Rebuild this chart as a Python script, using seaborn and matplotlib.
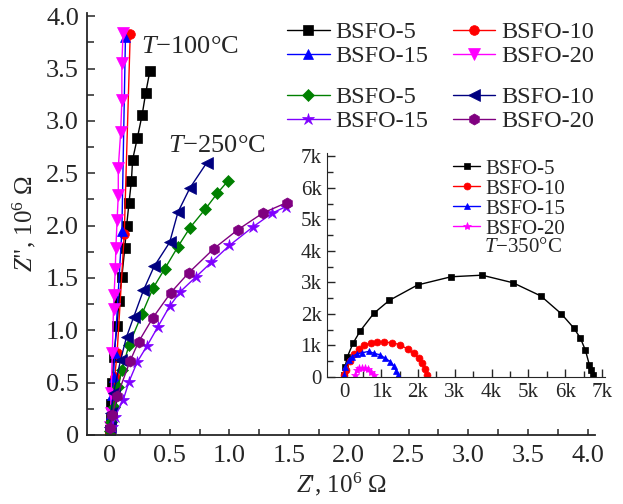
import numpy as np
import pandas as pd
import matplotlib
matplotlib.use('Agg')
import matplotlib.pyplot as plt
import seaborn as sns
from matplotlib.ticker import MultipleLocator, FuncFormatter

# main plot, units of 10^6 Ohm
b5_100_x = [0.335, 0.30, 0.27, 0.23, 0.19, 0.18, 0.16, 0.14, 0.125, 0.10, 0.075, 0.06, 0.03, 0.02, 0.01, 0.005, 0.0]
b5_100_y = [3.48, 3.27, 3.06, 2.84, 2.63, 2.43, 2.22, 2.00, 1.79, 1.51, 1.28, 1.04, 0.74, 0.50, 0.30, 0.15, 0.05]
b10_100_x = [0.17, 0.12, 0.06, 0.04, 0.03, 0.02, 0.01, 0.0]
b10_100_y = [3.83, 1.92, 0.78, 0.55, 0.38, 0.20, 0.10, 0.03]
b15_100_x = [0.13, 0.10, 0.04, 0.03, 0.02, 0.01, 0.0, 0.0]
b15_100_y = [3.80, 1.95, 0.78, 0.55, 0.38, 0.20, 0.10, 0.03]
b20_100_x = [0.11, 0.10, 0.10, 0.09, 0.07, 0.07, 0.06, 0.05, 0.045, 0.035, 0.03, 0.02, 0.01, 0.005, 0.0]
b20_100_y = [3.84, 3.55, 3.20, 2.89, 2.55, 2.29, 2.05, 1.79, 1.59, 1.34, 1.20, 0.78, 0.40, 0.21, 0.08]

b5_250_x = [0.99, 0.90, 0.80, 0.67, 0.57, 0.46, 0.36, 0.27, 0.16, 0.10, 0.07, 0.03, 0.01, 0.0]
b5_250_y = [2.43, 2.31, 2.16, 1.98, 1.80, 1.59, 1.40, 1.16, 0.86, 0.62, 0.46, 0.27, 0.12, 0.04]
b10_250_x = [0.81, 0.67, 0.57, 0.50, 0.37, 0.28, 0.20, 0.14, 0.09, 0.03, 0.01, 0.0]
b10_250_y = [2.60, 2.36, 2.13, 1.84, 1.61, 1.38, 1.13, 0.94, 0.72, 0.40, 0.21, 0.08]
b15_250_x = [1.47, 1.36, 1.20, 1.00, 0.85, 0.72, 0.59, 0.50, 0.40, 0.31, 0.23, 0.16, 0.11, 0.04, 0.02]
b15_250_y = [2.18, 2.12, 1.99, 1.81, 1.65, 1.51, 1.37, 1.23, 1.03, 0.85, 0.70, 0.51, 0.33, 0.17, 0.08]
b20_250_x = [1.48, 1.28, 1.07, 0.87, 0.66, 0.51, 0.36, 0.24, 0.17, 0.06, 0.02, 0.0]
b20_250_y = [2.22, 2.12, 1.96, 1.78, 1.55, 1.36, 1.12, 0.89, 0.71, 0.37, 0.19, 0.07]

# inset, 350 C, units of k Ohm
b5_350_x = [0, 0.02, 0.08, 0.24, 0.43, 0.80, 1.22, 1.99, 2.90, 3.74, 4.58, 5.34, 5.89, 6.23, 6.41, 6.55, 6.66, 6.71, 6.75]
b5_350_y = [0.05, 0.32, 0.64, 1.08, 1.46, 2.02, 2.43, 2.92, 3.18, 3.23, 2.99, 2.57, 2.01, 1.56, 1.24, 0.85, 0.37, 0.21, 0.05]
b10_350_x = [0, 0.05, 0.16, 0.27, 0.39, 0.54, 0.71, 0.89, 1.09, 1.29, 1.52, 1.72, 1.88, 2.02, 2.11, 2.18, 2.24]
b10_350_y = [0.05, 0.22, 0.52, 0.73, 0.88, 1.02, 1.07, 1.12, 1.10, 1.09, 1.02, 0.88, 0.75, 0.59, 0.43, 0.25, 0.06]
b15_350_x = [0, 0.03, 0.12, 0.21, 0.34, 0.48, 0.66, 0.81, 0.98, 1.11, 1.25, 1.34, 1.41, 1.47]
b15_350_y = [0.05, 0.33, 0.54, 0.65, 0.73, 0.77, 0.81, 0.75, 0.70, 0.59, 0.49, 0.35, 0.19, 0.06]
b20_350_x = [0.30, 0.33, 0.39, 0.48, 0.57, 0.64, 0.71, 0.80]
b20_350_y = [0.06, 0.22, 0.30, 0.28, 0.28, 0.24, 0.17, 0.06]

sns.set_style('ticks')
plt.rcParams['font.family'] = ['Liberation Serif', 'DejaVu Serif']
plt.rcParams['mathtext.fontset'] = 'custom'
plt.rcParams['mathtext.rm'] = 'Liberation Serif'
plt.rcParams['mathtext.it'] = 'Liberation Serif:italic'

fig = plt.figure(figsize=(6.23, 5.04), dpi=100)
ax = fig.add_axes([0.140, 0.137, 0.815, 0.837])


def line(a, x, y, c, m, lab, ms):
    sns.lineplot(x=x, y=y, ax=a, color=c, marker=m, markersize=ms, markeredgecolor=c,
                 markeredgewidth=0.5, linewidth=1, sort=False, estimator=None, label=lab)


line(ax, b5_100_x, b5_100_y, 'black', 's', 'BSFO-5', 7)
line(ax, b10_100_x, b10_100_y, 'red', 'o', 'BSFO-10', 7)
line(ax, b15_100_x, b15_100_y, 'blue', '^', 'BSFO-15', 7)
line(ax, b20_100_x, b20_100_y, 'magenta', 'v', 'BSFO-20', 8)
line(ax, b5_250_x, b5_250_y, 'green', 'D', 'BSFO-5', 6)
line(ax, b10_250_x, b10_250_y, 'navy', '<', 'BSFO-10', 8)
line(ax, b15_250_x, b15_250_y, '#7f00ff', '*', 'BSFO-15', 9)
line(ax, b20_250_x, b20_250_y, 'purple', 'h', 'BSFO-20', 8)

ax.set_xlim(-0.19, 4.06)
ax.set_ylim(0, 4.03)
ax.xaxis.set_major_locator(MultipleLocator(0.5))
ax.xaxis.set_minor_locator(MultipleLocator(0.25))
ax.yaxis.set_major_locator(MultipleLocator(0.5))
ax.yaxis.set_minor_locator(MultipleLocator(0.25))
fmt = FuncFormatter(lambda v, p: '0' if abs(v) < 1e-9 else f'{v:.1f}')
ax.xaxis.set_major_formatter(fmt)
ax.yaxis.set_major_formatter(fmt)
ax.tick_params(which='both', direction='in', labelsize=19, width=1.1)
ax.tick_params(axis='y', which='major', length=6, pad=6)
ax.tick_params(axis='y', which='minor', length=5)
ax.tick_params(axis='x', which='both', length=4, pad=7)
sns.despine(ax=ax)
for s in ['left', 'bottom']:
    ax.spines[s].set_linewidth(1.3)
ax.set_xlabel(r"$Z$', 10$^6$ Ω", fontsize=18, labelpad=3)
ax.set_ylabel(r'$Z$", 10$^6$ Ω', fontsize=18, labelpad=6)

ax.text(0.26, 3.65, r"$T$−100°C", fontsize=19)
ax.text(0.49, 2.70, r"$T$−250°C", fontsize=19)

h, l = ax.get_legend_handles_labels()
ax.get_legend().remove()
kw = dict(ncol=2, loc='upper left', bbox_transform=fig.transFigure, frameon=False, fontsize=17.5,
          handlelength=1.75, handletextpad=0.25, columnspacing=1.0, labelspacing=0.1,
          borderpad=0, borderaxespad=0)
leg1 = ax.legend([h[0], h[2], h[1], h[3]], [l[0], l[2], l[1], l[3]],
                 bbox_to_anchor=(287 / 623, 1 - 21 / 504), **kw)
ax.add_artist(leg1)
leg2 = ax.legend([h[4], h[6], h[5], h[7]], [l[4], l[6], l[5], l[7]],
                 bbox_to_anchor=(287 / 623, 1 - 86 / 504), **kw)

# inset
ins = fig.add_axes([0.525, 0.252, 0.446, 0.444])
line(ins, b5_350_x, b5_350_y, 'black', 's', 'BSFO-5', 4.5)
line(ins, b10_350_x, b10_350_y, 'red', 'o', 'BSFO-10', 5)
line(ins, b15_350_x, b15_350_y, 'blue', '^', 'BSFO-15', 5)
line(ins, b20_350_x, b20_350_y, 'magenta', '*', 'BSFO-20', 6)
ins.set_xlim(-0.47, 7.08)
ins.set_ylim(0, 7.1)
ins.set_facecolor('none')
ins.xaxis.set_major_locator(MultipleLocator(1))
ins.xaxis.set_minor_locator(MultipleLocator(0.5))
ins.yaxis.set_major_locator(MultipleLocator(1))
ins.yaxis.set_minor_locator(MultipleLocator(0.5))
kfmt = FuncFormatter(lambda v, p: '0' if abs(v) < 1e-9 else f'{int(round(v))}k')
ins.xaxis.set_major_formatter(kfmt)
ins.yaxis.set_major_formatter(kfmt)
ins.tick_params(which='both', direction='in', labelsize=15, width=1.0, pad=4)
ins.tick_params(which='major', length=6)
ins.tick_params(which='minor', length=4)
sns.despine(ax=ins)
ins.set_xlabel('')
ins.set_ylabel('')
ins.legend(loc='upper left', bbox_to_anchor=(453 / 623, 1 - 159 / 504), bbox_transform=fig.transFigure,
           frameon=False, fontsize=15, handlelength=1.3, handletextpad=0.25, labelspacing=0.02,
           borderpad=0, borderaxespad=0)
fig.text(484 / 623, 1 - 247 / 504, r"$T$−350°C", fontsize=15, va='center')

fig.savefig('out.png', dpi=100)
